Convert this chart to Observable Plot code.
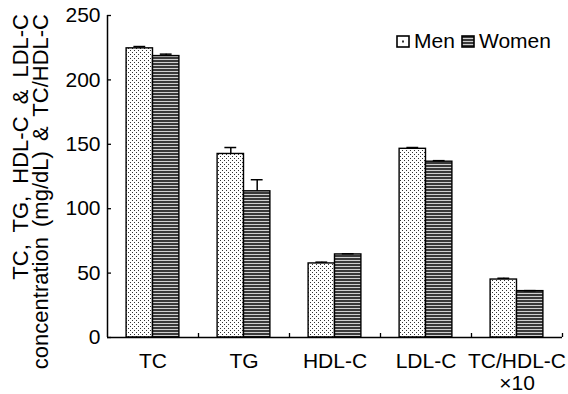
<!DOCTYPE html>
<html><head><meta charset="utf-8">
<script src="https://cdn.jsdelivr.net/npm/d3@7"></script>
<script src="https://cdn.jsdelivr.net/npm/@observablehq/plot@0.6"></script>
<style>body{margin:0;background:#fff} #chart{position:relative;width:568px;height:394px}</style>
</head><body><div id="chart"></div>
<script>
const categories = ["TC", "TG", "HDL-C", "LDL-C", "TC/HDL-C\n×10"];
const series = ["Men", "Women"];
const menMean = [224.5, 142.5, 57.5, 146.5, 45];
const womenMean = [218.5, 113.5, 64.5, 136.5, 36];
const menErr = [1.4, 5, 1, 1, 1];
const womenErr = [1.5, 9, 0.5, 0.8, 0.4];
const yTicks = [0, 50, 100, 150, 200, 250];
const yTitle = ["TC, TG, HDL-C & LDL-C", "concentration (mg/dL) & TC/HDL-C"];

const barW = 0.29, capW = 0.065;
const menRows = categories.map((c, i) => ({i, x1: i - barW, x2: i, v: menMean[i], e: menErr[i]}));
const womenRows = categories.map((c, i) => ({i, x1: i, x2: i + barW, v: womenMean[i], e: womenErr[i]}));
const allRows = menRows.concat(womenRows);
const mid = d => (d.x1 + d.x2) / 2;

const font = "'Liberation Sans', Arial, Helvetica, sans-serif";
const plot = Plot.plot({
  width: 568, height: 394,
  marginLeft: 107, marginRight: 6, marginTop: 15, marginBottom: 57,
  style: {fontFamily: font, fontSize: "21px", color: "#000", background: "#fff", overflow: "visible"},
  x: {domain: [-0.5, categories.length - 0.5]},
  y: {domain: [0, 250]},
  marks: [
    Plot.rectY(menRows, {x1: "x1", x2: "x2", y1: d => 0, y2: "v", fill: "url(#menPat)", stroke: "#000", strokeWidth: 1.4}),
    Plot.rectY(womenRows, {x1: "x1", x2: "x2", y1: d => 0, y2: "v", fill: "url(#womenPat)", stroke: "#000", strokeWidth: 1.4}),
    Plot.ruleX(allRows, {x: mid, y1: "v", y2: d => d.v + d.e, stroke: "#000", strokeWidth: 1.5}),
    Plot.ruleY(allRows, {y: d => d.v + d.e, x1: d => mid(d) - capW, x2: d => mid(d) + capW, stroke: "#000", strokeWidth: 1.5}),
    Plot.ruleY([0], {stroke: "#000", strokeWidth: 1.5}),
    Plot.ruleX([-0.5], {stroke: "#000", strokeWidth: 1.5}),
    Plot.axisY({ticks: yTicks, tickSize: -4, tickPadding: 11, label: null, fontSize: 21, strokeWidth: 1.3}),
    Plot.axisX({ticks: categories.map((c, i) => i + 0.5), tickSize: -4, tickFormat: () => "", label: null, strokeWidth: 1.3}),
    Plot.axisX({ticks: categories.map((c, i) => i), tickSize: 0, tickPadding: 15, tickFormat: i => categories[i], label: null, fontSize: 21, lineHeight: 1.05})
  ]
});

const svg = d3.select(plot);
const defs = svg.insert("defs", ":first-child");
const mp = defs.append("pattern").attr("id", "menPat").attr("patternUnits", "userSpaceOnUse").attr("width", 4).attr("height", 4);
mp.append("rect").attr("width", 4).attr("height", 4).attr("fill", "#fff");
mp.append("rect").attr("x", 0).attr("y", 0).attr("width", 1).attr("height", 1).attr("fill", "#333");
mp.append("rect").attr("x", 2).attr("y", 2).attr("width", 1).attr("height", 1).attr("fill", "#333");
const wp = defs.append("pattern").attr("id", "womenPat").attr("patternUnits", "userSpaceOnUse").attr("width", 4).attr("height", 3);
wp.append("rect").attr("width", 4).attr("height", 3).attr("fill", "#d0d0d0");
wp.append("rect").attr("width", 4).attr("height", 2).attr("fill", "#3a3a3a");

// y-axis title
const yt = svg.append("g").attr("font-family", font).attr("font-size", 22).attr("fill", "#000").attr("text-anchor", "end");
const wordSp = [6, 4];
yTitle.forEach((t, k) => {
  yt.append("text").attr("transform", `translate(${28 + k * 20},14) rotate(-90)`)
    .attr("text-anchor", "end").attr("word-spacing", wordSp[k]).text(t);
});

// legend
const lg = svg.append("g").attr("font-family", font).attr("font-size", 21).attr("fill", "#000").attr("text-anchor", "start");
const lx = [397, 462];
series.forEach((s, k) => {
  const g = lg.append("g").attr("transform", `translate(${lx[k]},36)`);
  if (k === 0) {
    g.append("rect").attr("width", 12).attr("height", 11).attr("fill", "#fff").attr("stroke", "#000").attr("stroke-width", 1.6);
    g.append("rect").attr("x", 5).attr("y", 4.5).attr("width", 2).attr("height", 2).attr("fill", "#333");
  } else {
    g.append("rect").attr("width", 12).attr("height", 11).attr("fill", "url(#womenPat)").attr("stroke", "#000").attr("stroke-width", 1.6);
  }
  g.append("text").attr("x", 17).attr("y", 12).attr("text-anchor", "start").text(s);
});

document.getElementById("chart").appendChild(plot);
</script>
</body></html>
